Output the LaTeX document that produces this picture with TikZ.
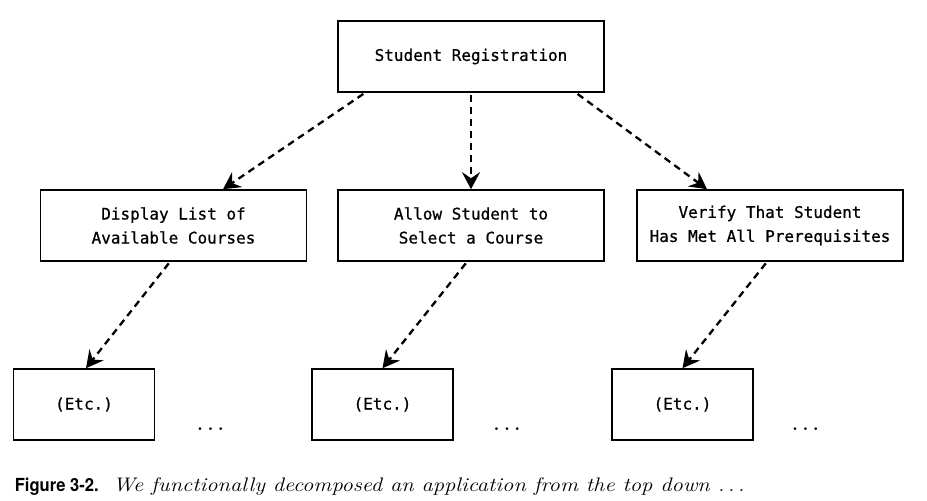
\documentclass[tikz,border=0pt]{standalone}
\usepackage{fontspec}
\setmonofont[FakeBold=0.7]{DejaVu Sans Mono}
\newfontfamily\figlabelfont[FakeStretch=0.92]{TeX Gyre Heros}
\newfontfamily\figtextfont[FakeStretch=1.15]{Latin Modern Roman}
\usepackage{tikz}
\usetikzlibrary{arrows.meta}

\begin{document}
\begin{tikzpicture}
        [x=1pt,y=-1pt,
        every node/.style={draw,rectangle,line width=1.6pt,minimum height=71pt,
          inner sep=0pt,align=center,font=\ttfamily\fontsize{16}{24}\selectfont},
        wide/.style={minimum width=266pt},
        small/.style={minimum width=141pt},
        plain/.style={draw=none,minimum height=0pt,minimum width=0pt},
        more/.style={plain,font=\rmfamily\bfseries\fontsize{19}{19}\selectfont},
        link/.style={-{Stealth[length=17pt,width=18pt,inset=6pt]},line width=2.3pt,
          dash pattern=on 7pt off 5pt,shorten <=2pt}]
        \useasboundingbox (0,0) rectangle (927,501);

        \node[wide] (root) at (471, 56.5) {Student Registration};

        \node[wide] (b1) at (173.5, 225.5) {Display List of\\Available Courses};
        \node[wide] (b2) at (471, 225.5) {Allow Student to\\Select a Course};
        \node[wide] (b3) at (770, 225.5) {Verify That Student\\Has Met All Prerequisites};

        \node[small] (c1) at (84, 404.5) {(Etc.)};
        \node[small] (c2) at (382.5, 404.5) {(Etc.)};
        \node[small] (c3) at (682.5, 404.5) {(Etc.)};

        \node[more] (d1) at (210.5, 429) {.\hspace{4.5pt}.\hspace{4.5pt}.};
        \node[more] (d2) at (507, 429) {.\hspace{4.5pt}.\hspace{4.5pt}.};
        \node[more] (d3) at (805.5, 429) {.\hspace{4.5pt}.\hspace{4.5pt}.};

        \node[plain, anchor=base west, font=\figlabelfont\bfseries\fontsize{18}{18}\selectfont]
          (fig) at (14, 491) {Figure 3-2.};
        \node[plain, anchor=base west, font=\figtextfont\itshape\fontsize{19.6}{20}\selectfont]
          (cap) at (112, 491) {We functionally decomposed an application from the top down .\,.\,.};

        \foreach \from/\fs/\to/\ts in {root/-106/b1/49.5, root/0/b2/0, root/105/b3/-63,
        b1/-3.5/c1/2, b2/-4/c2/0, b3/-3/c3/0}
            \draw[link] ([xshift=\fs]\from.south) -- ([xshift=\ts]\to.north);

      \end{tikzpicture}
\end{document}
